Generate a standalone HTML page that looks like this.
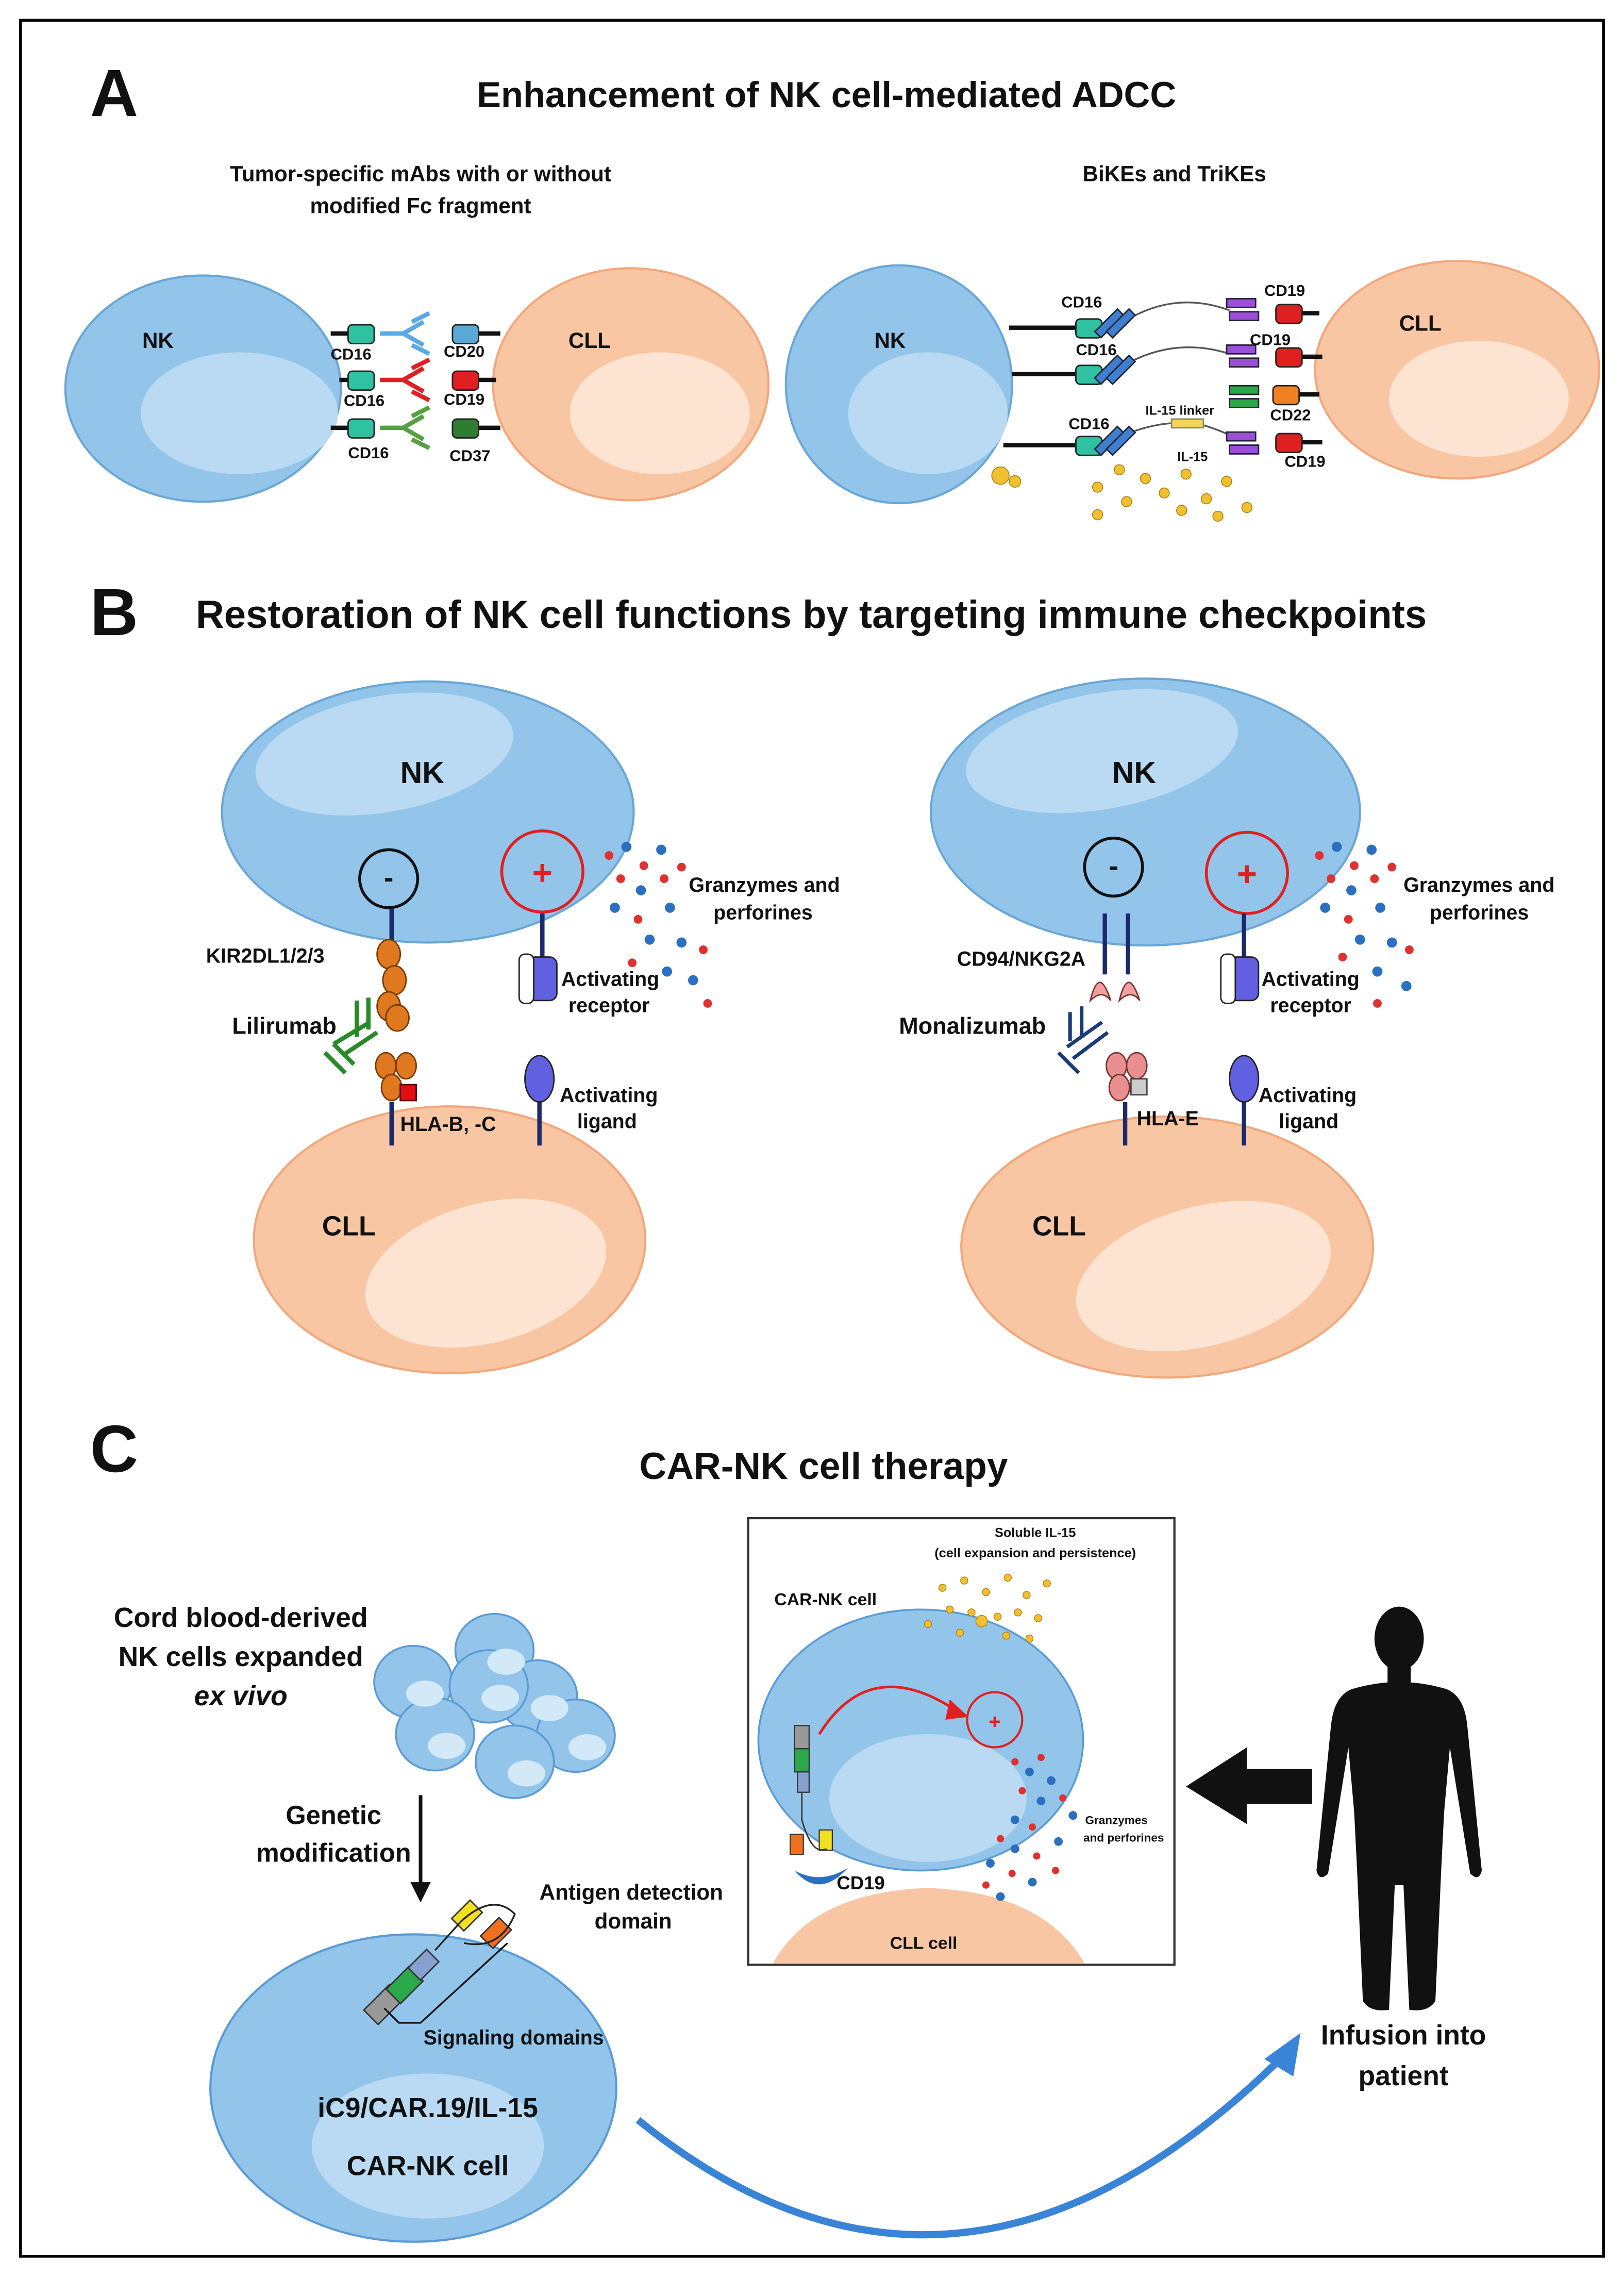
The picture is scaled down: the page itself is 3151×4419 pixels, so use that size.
<!DOCTYPE html>
<html><head><meta charset="utf-8"><style>
html,body{margin:0;padding:0;background:#fff}
svg{display:block}
text{font-family:"Liberation Sans",sans-serif;font-weight:bold;fill:#111}
</style></head><body>
<svg width="3151" height="4419" viewBox="0 0 1120 1571" xmlns="http://www.w3.org/2000/svg">
<defs>
<g id="nkin"><ellipse rx="1" ry="1" fill="#cfe6f7" opacity=".6"/></g>
</defs>
<rect x="14" y="14" width="1092" height="1542" fill="#fff" stroke="#000" stroke-width="2"/>

<!-- ===== A ===== -->
<text x="62" y="80" font-size="46">A</text>
<text x="570" y="74" font-size="25" text-anchor="middle">Enhancement of NK cell-mediated ADCC</text>
<text x="290" y="125" font-size="15" text-anchor="middle">Tumor-specific mAbs with or without</text>
<text x="290" y="147" font-size="15" text-anchor="middle">modified Fc fragment</text>
<text x="810" y="125" font-size="15" text-anchor="middle">BiKEs and TriKEs</text>

<ellipse cx="140" cy="268" rx="95" ry="78" fill="#93c5ea" stroke="#6aa6d6" stroke-width="1.5"/>
<ellipse cx="165" cy="285" rx="68" ry="42" fill="#b9daf2"/>
<text x="98" y="240" font-size="15">NK</text>
<ellipse cx="435" cy="265" rx="95" ry="80" fill="#f9c6a4" stroke="#f2a77c" stroke-width="1.5"/>
<ellipse cx="455" cy="285" rx="62" ry="42" fill="#fde3d1"/>
<text x="392" y="240" font-size="15">CLL</text>
<!-- connectors left -->
<g stroke="#111" stroke-width="3">
<line x1="228" y1="230" x2="240" y2="230"/><line x1="330" y1="230" x2="345" y2="230"/>
<line x1="234" y1="262" x2="240" y2="262"/><line x1="330" y1="262" x2="342" y2="262"/>
<line x1="228" y1="295" x2="240" y2="295"/><line x1="330" y1="295" x2="345" y2="295"/>
</g>
<g>
<rect x="240" y="224" width="18" height="13" rx="3" fill="#2fc2a2" stroke="#222"/>
<rect x="240" y="256" width="18" height="13" rx="3" fill="#2fc2a2" stroke="#222"/>
<rect x="240" y="289" width="18" height="13" rx="3" fill="#2fc2a2" stroke="#222"/>
<rect x="312" y="224" width="18" height="13" rx="3" fill="#5aa8d6" stroke="#222"/>
<rect x="312" y="256" width="18" height="13" rx="3" fill="#e02020" stroke="#222"/>
<rect x="312" y="289" width="18" height="13" rx="3" fill="#2e7d32" stroke="#222"/>
</g>
<g fill="none" stroke-width="3">
<path d="M262 230 H278 M278 230 L292 222 M278 230 L292 238 M284 222 L296 216 M284 238 L296 244" stroke="#5aa8e6"/>
<path d="M262 262 H278 M278 262 L292 254 M278 262 L292 270 M284 254 L296 248 M284 270 L296 276" stroke="#e02020"/>
<path d="M262 295 H278 M278 295 L292 287 M278 295 L292 303 M284 287 L296 281 M284 303 L296 309" stroke="#55a040"/>
</g>
<g font-size="11">
<text x="228" y="248">CD16</text><text x="237" y="280">CD16</text><text x="240" y="316">CD16</text>
<text x="306" y="246">CD20</text><text x="306" y="279">CD19</text><text x="310" y="318">CD37</text>
</g>

<!-- right A -->
<ellipse cx="620" cy="265" rx="78" ry="82" fill="#93c5ea" stroke="#6aa6d6" stroke-width="1.5"/>
<ellipse cx="640" cy="285" rx="55" ry="42" fill="#b9daf2"/>
<text x="603" y="240" font-size="15">NK</text>
<ellipse cx="1005" cy="255" rx="98" ry="75" fill="#f9c6a4" stroke="#f2a77c" stroke-width="1.5"/>
<ellipse cx="1020" cy="275" rx="62" ry="40" fill="#fde3d1"/>
<text x="965" y="228" font-size="15">CLL</text>
<g stroke="#111" stroke-width="3">
<line x1="696" y1="226" x2="742" y2="226"/><line x1="698" y1="258" x2="742" y2="258"/><line x1="692" y1="307" x2="742" y2="307"/>
<line x1="896" y1="216" x2="910" y2="216"/><line x1="896" y1="246" x2="912" y2="246"/><line x1="896" y1="305" x2="912" y2="305"/><line x1="896" y1="272" x2="910" y2="272"/>
</g>
<g fill="none" stroke="#555" stroke-width="1.2">
<path d="M775 222 Q810 200 848 214"/><path d="M775 252 Q810 232 848 244"/><path d="M775 300 Q800 290 820 292 M848 300 Q830 292 822 292"/>
</g>
<g fill="#2fc2a2" stroke="#222">
<rect x="742" y="220" width="18" height="13" rx="3"/><rect x="742" y="252" width="18" height="13" rx="3"/><rect x="742" y="301" width="18" height="13" rx="3"/>
</g>
<g fill="#3f7fd0" stroke="#223">
<rect x="762" y="212" width="6" height="22" transform="rotate(45 765 223)"/><rect x="770" y="212" width="6" height="22" transform="rotate(45 773 223)"/>
<rect x="762" y="244" width="6" height="22" transform="rotate(45 765 255)"/><rect x="770" y="244" width="6" height="22" transform="rotate(45 773 255)"/>
<rect x="762" y="293" width="6" height="22" transform="rotate(45 765 304)"/><rect x="770" y="293" width="6" height="22" transform="rotate(45 773 304)"/>
</g>
<g fill="#9b4fd8" stroke="#223">
<rect x="846" y="206" width="20" height="6"/><rect x="848" y="215" width="20" height="6"/>
<rect x="846" y="238" width="20" height="6"/><rect x="848" y="247" width="20" height="6"/>
<rect x="846" y="298" width="20" height="6"/><rect x="848" y="307" width="20" height="6"/>
</g>
<g fill="#2aa84a" stroke="#223"><rect x="848" y="266" width="20" height="6"/><rect x="848" y="275" width="20" height="6"/></g>
<rect x="808" y="289" width="22" height="6" fill="#f3d45a" stroke="#886"/>
<g stroke="#222">
<rect x="880" y="210" width="18" height="13" rx="3" fill="#e02020"/>
<rect x="880" y="240" width="18" height="13" rx="3" fill="#e02020"/>
<rect x="878" y="266" width="18" height="13" rx="3" fill="#f08020"/>
<rect x="880" y="299" width="18" height="13" rx="3" fill="#e02020"/>
</g>
<g font-size="11">
<text x="732" y="212">CD16</text><text x="742" y="245">CD16</text><text x="737" y="296">CD16</text>
<text x="872" y="204">CD19</text><text x="862" y="238">CD19</text><text x="876" y="290">CD22</text><text x="886" y="322">CD19</text>
<text x="790" y="286" font-size="9">IL-15 linker</text><text x="812" y="318" font-size="9">IL-15</text>
</g>
<g fill="#f0c030" stroke="#b08010" stroke-width=".6">
<circle cx="690" cy="328" r="6"/><circle cx="700" cy="332" r="4"/>
<circle cx="757" cy="336" r="3.5"/><circle cx="772" cy="324" r="3.5"/><circle cx="790" cy="330" r="3.5"/><circle cx="803" cy="340" r="3.5"/>
<circle cx="818" cy="327" r="3.5"/><circle cx="832" cy="344" r="3.5"/><circle cx="846" cy="332" r="3.5"/><circle cx="860" cy="350" r="3.5"/>
<circle cx="777" cy="346" r="3.5"/><circle cx="757" cy="355" r="3.5"/><circle cx="815" cy="352" r="3.5"/><circle cx="840" cy="356" r="3.5"/>
</g>

<!-- ===== B ===== -->
<text x="62" y="438" font-size="46">B</text>
<text x="135" y="433" font-size="27">Restoration of NK cell functions by targeting immune checkpoints</text>

<!-- left B -->
<ellipse cx="310" cy="855" rx="135" ry="92" fill="#f9c6a4" stroke="#f2a77c" stroke-width="1.5"/>
<ellipse cx="335" cy="878" rx="85" ry="48" fill="#fde3d1" transform="rotate(-15 335 878)"/>
<text x="222" y="852" font-size="19">CLL</text>
<ellipse cx="295" cy="560" rx="142" ry="90" fill="#93c5ea" stroke="#6aa6d6" stroke-width="1.5"/>
<ellipse cx="265" cy="520" rx="90" ry="40" fill="#b9daf2" transform="rotate(-10 265 520)"/>
<text x="276" y="540" font-size="21">NK</text>
<circle cx="268" cy="606" r="20" fill="none" stroke="#111" stroke-width="2"/><text x="268" y="612" font-size="20" text-anchor="middle">-</text>
<circle cx="374" cy="601" r="28" fill="none" stroke="#e02020" stroke-width="2"/><text x="374" y="610" font-size="24" text-anchor="middle" fill="#e02020" style="fill:#e02020">+</text>
<g stroke="#1a2a6a" stroke-width="3"><line x1="270" y1="627" x2="270" y2="650"/><line x1="374" y1="630" x2="374" y2="660"/><line x1="270" y1="760" x2="270" y2="790"/><line x1="372" y1="760" x2="372" y2="790"/></g>
<g fill="#e07820" stroke="#7a3a00">
<ellipse cx="268" cy="658" rx="8" ry="10"/><ellipse cx="272" cy="676" rx="8" ry="10"/><ellipse cx="268" cy="694" rx="8" ry="10"/><ellipse cx="274" cy="702" rx="8" ry="9"/>
<ellipse cx="266" cy="735" rx="7" ry="9"/><ellipse cx="280" cy="735" rx="7" ry="9"/><ellipse cx="270" cy="750" rx="7" ry="9"/>
</g>
<rect x="276" y="748" width="11" height="11" fill="#e01010" stroke="#500"/>
<rect x="364" y="660" width="20" height="30" rx="5" fill="#6060e0" stroke="#222"/><rect x="358" y="658" width="10" height="34" rx="4" fill="#fff" stroke="#222"/>
<ellipse cx="372" cy="744" rx="10" ry="16" fill="#6060e0" stroke="#222"/>
<g fill="none" stroke="#2a8a2a" stroke-width="3"><path d="M230 720 L255 705 M236 728 L260 712 M246 715 L246 690 M254 710 L254 688 M224 726 L238 740 M230 720 L244 734"/></g>
<g font-size="14">
<text x="142" y="664">KIR2DL1/2/3</text><text x="160" y="713" font-size="16">Lilirumab</text><text x="276" y="780">HLA-B, -C</text>
<text x="387" y="680">Activating</text><text x="392" y="698">receptor</text><text x="386" y="760">Activating</text><text x="398" y="778">ligand</text>
<text x="475" y="615">Granzymes and</text><text x="492" y="634">perforines</text>
</g>
<g>
<circle cx="420" cy="590" r="3" fill="#e03030"/><circle cx="432" cy="584" r="3.5" fill="#2a6fc0"/><circle cx="444" cy="597" r="3" fill="#e03030"/><circle cx="456" cy="586" r="3.5" fill="#2a6fc0"/>
<circle cx="428" cy="606" r="3" fill="#e03030"/><circle cx="442" cy="614" r="3.5" fill="#2a6fc0"/><circle cx="458" cy="606" r="3" fill="#e03030"/><circle cx="424" cy="626" r="3.5" fill="#2a6fc0"/>
<circle cx="440" cy="634" r="3" fill="#e03030"/><circle cx="462" cy="626" r="3.5" fill="#2a6fc0"/><circle cx="448" cy="648" r="3.5" fill="#2a6fc0"/><circle cx="436" cy="664" r="3" fill="#e03030"/>
<circle cx="470" cy="650" r="3.5" fill="#2a6fc0"/><circle cx="485" cy="655" r="3" fill="#e03030"/><circle cx="460" cy="670" r="3.5" fill="#2a6fc0"/><circle cx="478" cy="676" r="3.5" fill="#2a6fc0"/>
<circle cx="488" cy="692" r="3" fill="#e03030"/><circle cx="470" cy="598" r="3" fill="#e03030"/>
</g>

<!-- right B -->
<ellipse cx="805" cy="860" rx="142" ry="90" fill="#f9c6a4" stroke="#f2a77c" stroke-width="1.5"/>
<ellipse cx="830" cy="880" rx="90" ry="48" fill="#fde3d1" transform="rotate(-15 830 880)"/>
<text x="712" y="852" font-size="19">CLL</text>
<ellipse cx="790" cy="560" rx="148" ry="92" fill="#93c5ea" stroke="#6aa6d6" stroke-width="1.5"/>
<ellipse cx="760" cy="518" rx="95" ry="40" fill="#b9daf2" transform="rotate(-10 760 518)"/>
<text x="767" y="540" font-size="21">NK</text>
<circle cx="768" cy="598" r="20" fill="none" stroke="#111" stroke-width="2"/><text x="768" y="604" font-size="20" text-anchor="middle">-</text>
<circle cx="860" cy="602" r="28" fill="none" stroke="#e02020" stroke-width="2"/><text x="860" y="611" font-size="24" text-anchor="middle" style="fill:#e02020">+</text>
<g stroke="#1a2a6a" stroke-width="3"><line x1="762" y1="630" x2="762" y2="672"/><line x1="778" y1="630" x2="778" y2="672"/><line x1="858" y1="630" x2="858" y2="660"/><line x1="776" y1="760" x2="776" y2="790"/><line x1="858" y1="760" x2="858" y2="790"/></g>
<g fill="#f0a0a0" stroke="#7a3030"><path d="M752 690 Q758 665 766 690 Q760 682 752 690Z"/><path d="M772 690 Q778 665 786 690 Q780 682 772 690Z"/></g>
<g fill="#e89090" stroke="#7a3030"><ellipse cx="770" cy="735" rx="7" ry="9"/><ellipse cx="784" cy="735" rx="7" ry="9"/><ellipse cx="772" cy="750" rx="7" ry="9"/></g>
<rect x="780" y="744" width="11" height="11" fill="#ccc" stroke="#444"/>
<rect x="848" y="660" width="20" height="30" rx="5" fill="#6060e0" stroke="#222"/><rect x="842" y="658" width="10" height="34" rx="4" fill="#fff" stroke="#222"/>
<ellipse cx="858" cy="744" rx="10" ry="16" fill="#6060e0" stroke="#222"/>
<g fill="none" stroke="#1a3a7a" stroke-width="2.5"><path d="M736 722 L760 705 M740 730 L764 712 M738 718 L738 698 M746 714 L746 694 M730 726 L744 740"/></g>
<g font-size="14">
<text x="660" y="666">CD94/NKG2A</text><text x="620" y="713" font-size="16">Monalizumab</text><text x="784" y="776">HLA-E</text>
<text x="870" y="680">Activating</text><text x="876" y="698">receptor</text><text x="868" y="760">Activating</text><text x="882" y="778">ligand</text>
<text x="968" y="615">Granzymes and</text><text x="986" y="634">perforines</text>
</g>
<g>
<circle cx="910" cy="590" r="3" fill="#e03030"/><circle cx="922" cy="584" r="3.5" fill="#2a6fc0"/><circle cx="934" cy="597" r="3" fill="#e03030"/><circle cx="946" cy="586" r="3.5" fill="#2a6fc0"/>
<circle cx="918" cy="606" r="3" fill="#e03030"/><circle cx="932" cy="614" r="3.5" fill="#2a6fc0"/><circle cx="948" cy="606" r="3" fill="#e03030"/><circle cx="914" cy="626" r="3.5" fill="#2a6fc0"/>
<circle cx="930" cy="634" r="3" fill="#e03030"/><circle cx="952" cy="626" r="3.5" fill="#2a6fc0"/><circle cx="938" cy="648" r="3.5" fill="#2a6fc0"/><circle cx="926" cy="660" r="3" fill="#e03030"/>
<circle cx="960" cy="650" r="3.5" fill="#2a6fc0"/><circle cx="972" cy="655" r="3" fill="#e03030"/><circle cx="950" cy="670" r="3.5" fill="#2a6fc0"/><circle cx="970" cy="680" r="3.5" fill="#2a6fc0"/>
<circle cx="950" cy="692" r="3" fill="#e03030"/><circle cx="960" cy="598" r="3" fill="#e03030"/>
</g>

<!-- ===== C ===== -->
<text x="62" y="1015" font-size="46">C</text>
<text x="568" y="1020" font-size="26" text-anchor="middle">CAR-NK cell therapy</text>
<text x="166" y="1122" font-size="19" text-anchor="middle">Cord blood-derived</text>
<text x="166" y="1149" font-size="19" text-anchor="middle">NK cells expanded</text>
<text x="166" y="1176" font-size="19" text-anchor="middle" font-style="italic">ex vivo</text>
<g fill="#93c5ea" stroke="#5b9bd5" stroke-width="1.3">
<ellipse cx="285" cy="1160" rx="27" ry="25"/><ellipse cx="341" cy="1138" rx="27" ry="25"/><ellipse cx="371" cy="1170" rx="27" ry="25"/>
<ellipse cx="397" cy="1197" rx="27" ry="25"/><ellipse cx="337" cy="1163" rx="27" ry="25"/><ellipse cx="300" cy="1196" rx="27" ry="25"/><ellipse cx="355" cy="1215" rx="27" ry="25"/>
</g>
<g fill="#d3e9f8"><ellipse cx="293" cy="1168" rx="13" ry="9"/><ellipse cx="349" cy="1146" rx="13" ry="9"/><ellipse cx="379" cy="1178" rx="13" ry="9"/><ellipse cx="405" cy="1205" rx="13" ry="9"/><ellipse cx="345" cy="1171" rx="13" ry="9"/><ellipse cx="308" cy="1204" rx="13" ry="9"/><ellipse cx="363" cy="1223" rx="13" ry="9"/></g>
<text x="230" y="1258" font-size="18" text-anchor="middle">Genetic</text>
<text x="230" y="1284" font-size="18" text-anchor="middle">modification</text>
<line x1="290" y1="1238" x2="290" y2="1300" stroke="#111" stroke-width="2.5"/>
<path d="M283 1298 L297 1298 L290 1312Z" fill="#111"/>

<ellipse cx="285" cy="1440" rx="140" ry="106" fill="#93c5ea" stroke="#5b9bd5" stroke-width="1.5"/>
<ellipse cx="295" cy="1480" rx="80" ry="50" fill="#b9daf2"/>
<text x="295" y="1460" font-size="19" text-anchor="middle">iC9/CAR.19/IL-15</text>
<text x="295" y="1500" font-size="19" text-anchor="middle">CAR-NK cell</text>
<g stroke="#333" stroke-width="1">
<rect x="258" y="1370" width="14" height="25" fill="#999" transform="rotate(45 265 1382)"/>
<rect x="272" y="1358" width="14" height="22" fill="#2aa84a" transform="rotate(45 279 1369)"/>
<rect x="286" y="1346" width="12" height="18" fill="#88a0d0" transform="rotate(45 292 1355)"/>
<rect x="316" y="1312" width="12" height="18" fill="#f0e020" transform="rotate(45 322 1321)"/>
<rect x="336" y="1324" width="12" height="18" fill="#f07020" transform="rotate(45 342 1333)"/>
</g>
<path d="M300 1345 L318 1325 Q340 1305 355 1320 Q345 1345 320 1340" fill="none" stroke="#222" stroke-width="1.2"/>
<path d="M265 1385 L275 1395 L290 1395 L350 1340" fill="none" stroke="#111" stroke-width="1.2"/>
<text x="372" y="1310" font-size="15">Antigen detection</text>
<text x="410" y="1330" font-size="15">domain</text>
<text x="292" y="1410" font-size="14">Signaling domains</text>
<path d="M440 1462 Q660 1640 885 1418" fill="none" stroke="#3a84d8" stroke-width="5"/>
<path d="M872 1420 L897 1402 L892 1432Z" fill="#3a84d8"/>

<!-- inset -->
<rect x="516" y="1047" width="294" height="308" fill="#fff" stroke="#333" stroke-width="1.5"/>
<path d="M533 1354 Q560 1305 640 1302 Q720 1305 748 1354Z" fill="#f9c6a4"/>
<text x="637" y="1344" font-size="12" text-anchor="middle">CLL cell</text>
<ellipse cx="635" cy="1200" rx="112" ry="90" fill="#93c5ea" stroke="#5b9bd5" stroke-width="1.3"/>
<ellipse cx="640" cy="1240" rx="68" ry="44" fill="#b9daf2"/>
<text x="534" y="1107" font-size="12">CAR-NK cell</text>
<text x="714" y="1060" font-size="9" text-anchor="middle">Soluble IL-15</text>
<text x="714" y="1074" font-size="9" text-anchor="middle">(cell expansion and persistence)</text>
<g fill="#f0c030" stroke="#b08010" stroke-width=".5">
<circle cx="650" cy="1095" r="2.5"/><circle cx="665" cy="1090" r="2.5"/><circle cx="680" cy="1098" r="2.5"/><circle cx="695" cy="1088" r="2.5"/><circle cx="708" cy="1100" r="2.5"/><circle cx="722" cy="1092" r="2.5"/>
<circle cx="655" cy="1110" r="2.5"/><circle cx="670" cy="1112" r="2.5"/><circle cx="688" cy="1115" r="2.5"/><circle cx="702" cy="1112" r="2.5"/><circle cx="716" cy="1116" r="2.5"/>
<circle cx="640" cy="1120" r="2.5"/><circle cx="662" cy="1126" r="2.5"/><circle cx="694" cy="1128" r="2.5"/><circle cx="710" cy="1130" r="2.5"/><circle cx="677" cy="1118" r="4"/>
</g>
<path d="M565 1196 Q600 1140 660 1180" fill="none" stroke="#e02020" stroke-width="1.8"/>
<path d="M655 1172 L668 1184 L652 1186Z" fill="#e02020"/>
<circle cx="686" cy="1186" r="19" fill="none" stroke="#e02020" stroke-width="1.5"/><text x="686" y="1192" font-size="14" text-anchor="middle" style="fill:#e02020">+</text>
<g stroke="#333" stroke-width=".8">
<rect x="548" y="1190" width="10" height="16" fill="#999"/><rect x="548" y="1206" width="10" height="16" fill="#2aa84a"/><rect x="550" y="1222" width="8" height="14" fill="#88a0d0"/>
<rect x="545" y="1265" width="9" height="14" fill="#f07020"/><rect x="565" y="1262" width="9" height="14" fill="#f0e020"/>
</g>
<path d="M553 1236 V1255 Q560 1280 570 1275" fill="none" stroke="#333"/>
<path d="M548 1290 Q565 1310 585 1288 Q566 1300 548 1290Z" fill="#2a6fc0"/>
<text x="577" y="1303" font-size="13">CD19</text>
<text x="770" y="1258" font-size="8" text-anchor="middle">Granzymes</text>
<text x="775" y="1270" font-size="8" text-anchor="middle">and perforines</text>
<g>
<circle cx="700" cy="1215" r="2.5" fill="#e03030"/><circle cx="710" cy="1222" r="3" fill="#2a6fc0"/><circle cx="718" cy="1212" r="2.5" fill="#e03030"/><circle cx="725" cy="1228" r="3" fill="#2a6fc0"/>
<circle cx="705" cy="1235" r="2.5" fill="#e03030"/><circle cx="718" cy="1242" r="3" fill="#2a6fc0"/><circle cx="733" cy="1240" r="2.5" fill="#e03030"/><circle cx="740" cy="1252" r="3" fill="#2a6fc0"/>
<circle cx="700" cy="1255" r="3" fill="#2a6fc0"/><circle cx="712" cy="1260" r="2.5" fill="#e03030"/><circle cx="690" cy="1268" r="2.5" fill="#e03030"/><circle cx="700" cy="1275" r="3" fill="#2a6fc0"/>
<circle cx="715" cy="1280" r="2.5" fill="#e03030"/><circle cx="683" cy="1285" r="3" fill="#2a6fc0"/><circle cx="698" cy="1292" r="2.5" fill="#e03030"/><circle cx="712" cy="1298" r="3" fill="#2a6fc0"/>
<circle cx="728" cy="1290" r="2.5" fill="#e03030"/><circle cx="680" cy="1300" r="2.5" fill="#e03030"/><circle cx="690" cy="1308" r="3" fill="#2a6fc0"/><circle cx="730" cy="1270" r="3" fill="#2a6fc0"/>
</g>

<!-- arrow to inset -->
<path d="M905 1220 H860 V1205 L818 1232 L860 1258 V1244 H905Z" fill="#111"/>

<!-- human -->
<g fill="#111">
<ellipse cx="965" cy="1130" rx="17" ry="22"/>
<rect x="957" y="1148" width="16" height="16"/>
<path d="M932 1165 Q965 1155 998 1165 Q1010 1170 1012 1190 L1022 1290 Q1020 1298 1014 1292 L1000 1205 L996 1250 L994 1290 L990 1380 Q985 1388 972 1386 L968 1300 L962 1300 L958 1386 Q945 1388 940 1380 L936 1290 L934 1250 L930 1205 L916 1292 Q910 1298 908 1290 L918 1190 Q920 1170 932 1165Z"/>
</g>
<text x="968" y="1410" font-size="19" text-anchor="middle">Infusion into</text>
<text x="968" y="1438" font-size="19" text-anchor="middle">patient</text>
</svg>
</body></html>
